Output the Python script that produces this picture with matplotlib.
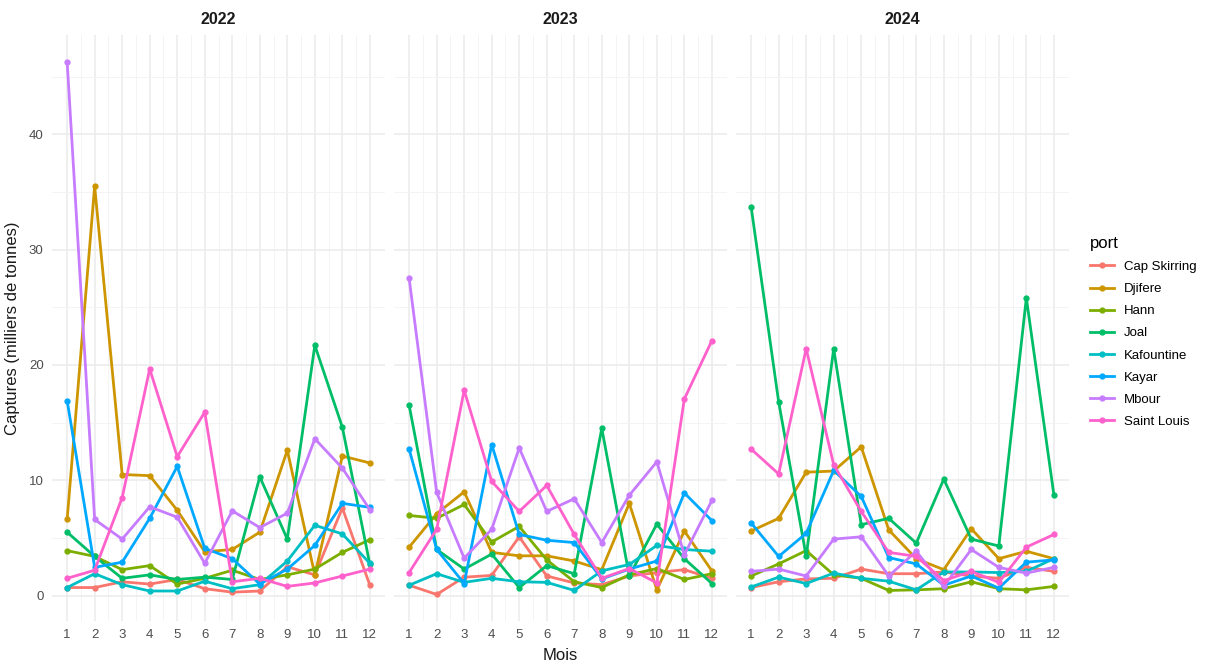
import matplotlib.pyplot as plt
from matplotlib.lines import Line2D

# Monthly catches per port (thousands of tonnes), one list per year
months = list(range(1, 13))
years = ['2022', '2023', '2024']
ports = ['Cap Skirring', 'Djifere', 'Hann', 'Joal', 'Kafountine', 'Kayar', 'Mbour', 'Saint Louis']
colors = ['#F8766D', '#CD9600', '#7CAE00', '#00BE67', '#00BFC4', '#00A9FF', '#C77CFF', '#FF61CC']

cap_skirring = {
    '2022': [0.7, 0.7, 1.2, 1.0, 1.4, 0.6, 0.3, 0.4, 2.5, 1.8, 7.6, 0.9],
    '2023': [0.9, 0.1, 1.6, 1.75, 5.1, 1.7, 1.1, 0.95, 1.7, 2.0, 2.25, 1.5],
    '2024': [0.7, 1.2, 1.45, 1.5, 2.3, 1.9, 1.9, 2.05, 1.7, 1.5, 2.45, 2.1],
}
djifere = {
    '2022': [6.6, 35.5, 10.5, 10.4, 7.4, 3.8, 4.0, 5.5, 12.6, 1.8, 12.1, 11.5],
    '2023': [4.2, 7.1, 9.0, 3.75, 3.45, 3.45, 3.0, 2.25, 8.0, 0.5, 5.6, 2.15],
    '2024': [5.6, 6.7, 10.7, 10.8, 12.9, 5.7, 3.2, 2.25, 5.8, 3.2, 3.85, 3.2],
}
hann = {
    '2022': [3.9, 3.4, 2.25, 2.6, 1.0, 1.5, 2.2, 1.4, 1.8, 2.3, 3.75, 4.85],
    '2023': [6.95, 6.7, 7.9, 4.65, 6.0, 3.1, 1.2, 0.7, 1.8, 2.35, 1.4, 1.9],
    '2024': [1.7, 2.75, 3.9, 1.8, 1.5, 0.45, 0.5, 0.6, 1.2, 0.6, 0.5, 0.8],
}
joal = {
    '2022': [5.5, 3.4, 1.5, 1.8, 1.4, 1.6, 1.4, 10.3, 4.9, 21.7, 14.6, 2.7],
    '2023': [16.5, 4.0, 2.3, 3.6, 0.7, 2.6, 1.9, 14.5, 1.7, 6.2, 3.2, 1.05],
    '2024': [33.7, 16.8, 3.4, 21.4, 6.15, 6.7, 4.55, 10.1, 4.9, 4.3, 25.8, 8.75],
}
kafountine = {
    '2022': [0.7, 1.9, 0.95, 0.4, 0.4, 1.25, 0.6, 0.95, 3.0, 6.1, 5.35, 2.8],
    '2023': [0.9, 1.9, 1.15, 1.5, 1.2, 1.15, 0.45, 2.15, 2.7, 4.35, 4.0, 3.85],
    '2024': [0.75, 1.6, 1.05, 1.95, 1.5, 1.25, 0.5, 2.05, 2.05, 2.0, 2.1, 3.2],
}
kayar = {
    '2022': [16.9, 2.45, 2.9, 6.7, 11.2, 4.1, 3.2, 1.0, 2.3, 4.35, 8.0, 7.65],
    '2023': [12.7, 4.0, 1.05, 13.1, 5.3, 4.8, 4.6, 1.45, 2.3, 3.0, 8.9, 6.5],
    '2024': [6.3, 3.4, 5.4, 10.85, 8.6, 3.3, 2.75, 0.9, 1.7, 0.65, 2.9, 3.1],
}
mbour = {
    '2022': [46.3, 6.6, 4.9, 7.7, 6.8, 2.8, 7.35, 5.9, 7.15, 13.6, 11.05, 7.45],
    '2023': [27.5, 8.95, 3.25, 5.75, 12.8, 7.3, 8.4, 4.6, 8.7, 11.6, 3.55, 8.25],
    '2024': [2.1, 2.3, 1.7, 4.9, 5.1, 1.7, 3.85, 0.8, 4.0, 2.45, 1.95, 2.45],
}
saint_louis = {
    '2022': [1.5, 2.2, 8.5, 19.65, 12.05, 15.9, 1.2, 1.5, 0.8, 1.1, 1.7, 2.3],
    '2023': [2.0, 5.75, 17.8, 9.9, 7.3, 9.55, 5.3, 1.5, 2.35, 1.1, 17.05, 22.1],
    '2024': [12.7, 10.55, 21.4, 11.35, 7.3, 3.75, 3.4, 1.3, 2.1, 1.15, 4.2, 5.3],
}
series = [cap_skirring, djifere, hann, joal, kafountine, kayar, mbour, saint_louis]

# --- Figure setup (ggplot theme_minimal look) ---
W, H = 1206, 663
fig = plt.figure(figsize=(W / 100, H / 100), dpi=100)
plt.rcParams['font.family'] = ['Liberation Sans', 'DejaVu Sans']

panel_left = [52, 394, 736]
panel_w = 333
top_px, bottom_px = 35, 621

axes = []
for i, year in enumerate(years):
    ax = fig.add_axes([panel_left[i] / W, 1 - bottom_px / H, panel_w / W, (bottom_px - top_px) / H])
    for data, color in zip(series, colors):
        ax.plot(months, data[year], color=color, lw=2.0, marker='o', ms=3.5,
                solid_joinstyle='round', zorder=3)
    ax.set_xlim(0.45, 12.55)
    ax.set_ylim(-2.2, 48.6)
    ax.set_xticks(months)
    ax.set_xticks([m + 0.5 for m in months[:-1]], minor=True)
    ax.set_yticks([0, 10, 20, 30, 40])
    ax.set_yticks([5, 15, 25, 35, 45], minor=True)
    ax.grid(which='major', color='#EBEBEB', lw=1.1, zorder=0)
    ax.grid(which='minor', color='#F3F3F3', lw=0.6, zorder=0)
    for s in ax.spines.values():
        s.set_visible(False)
    ax.tick_params(which='both', length=0, labelsize=9.5, labelcolor='#4D4D4D', pad=6)
    if i > 0:
        ax.set_yticklabels([])
    ax.set_title(year, fontsize=11.5, fontweight='bold', color='#1A1A1A', pad=8)
    axes.append(ax)

axes[0].set_ylabel('Captures (milliers de tonnes)', fontsize=12, color='#1A1A1A', labelpad=6)
fig.text((52 + 1069) / 2 / W, 1 - 656 / H, 'Mois', ha='center', va='center',
         fontsize=12, color='#1A1A1A')

# Legend
handles = [Line2D([0], [0], color=c, lw=2.0, marker='o', ms=3.5) for c in colors]
leg = fig.legend(handles, ports, title='port', loc='upper left',
                 bbox_to_anchor=(1078 / W, 1 - 224 / H), frameon=False,
                 fontsize=9.5, title_fontsize=12, handlelength=1.8,
                 labelspacing=0.75, alignment='left')

fig.savefig('out.png', dpi=100)
